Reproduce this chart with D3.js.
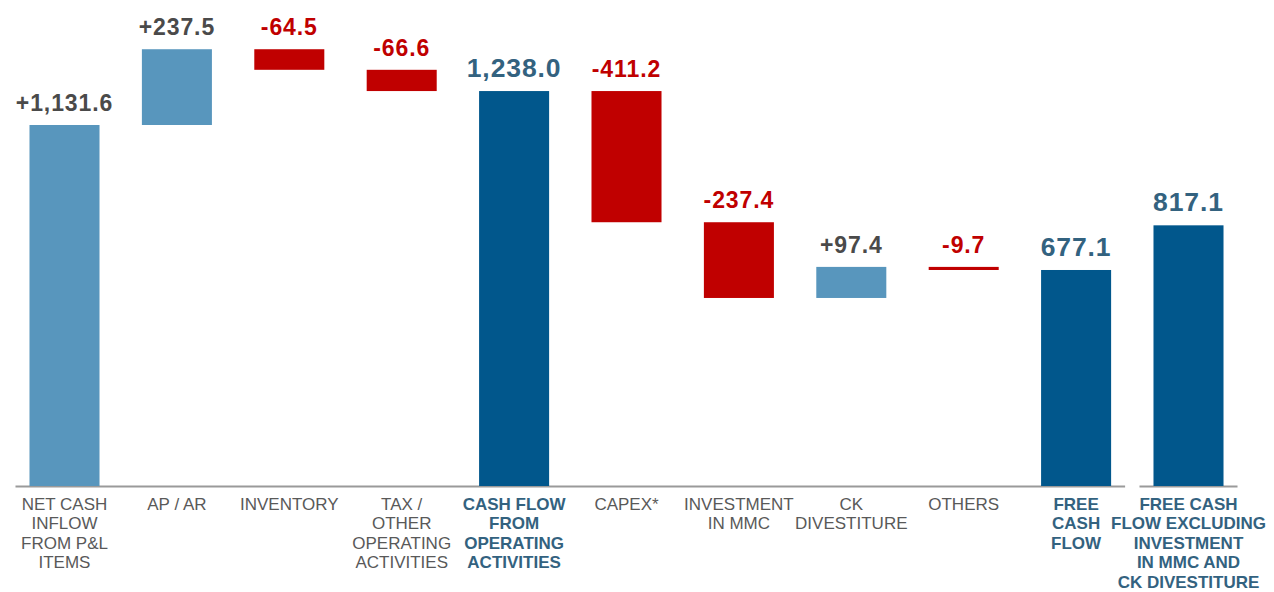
<!DOCTYPE html>
<html>
<head>
<meta charset="utf-8">
<script src="https://cdn.jsdelivr.net/npm/d3@7"></script>
<style>
  html, body { margin: 0; padding: 0; background: #fff; }
  svg { display: block; font-family: "Liberation Sans", Arial, Helvetica, sans-serif; }
</style>
</head>
<body>
<svg id="chart" width="1274" height="592"></svg>
<script>
// chart data
const categories = [
  ["NET CASH", "INFLOW", "FROM P&L", "ITEMS"],
  ["AP / AR"],
  ["INVENTORY"],
  ["TAX /", "OTHER", "OPERATING", "ACTIVITIES"],
  ["CASH FLOW", "FROM", "OPERATING", "ACTIVITIES"],
  ["CAPEX*"],
  ["INVESTMENT", "IN MMC"],
  ["CK", "DIVESTITURE"],
  ["OTHERS"],
  ["FREE", "CASH", "FLOW"],
  ["FREE CASH", "FLOW EXCLUDING", "INVESTMENT", "IN MMC AND", "CK DIVESTITURE"]
];
const values = [1131.6, 237.5, -64.5, -66.6, 1238.0, -411.2, -237.4, 97.4, -9.7, 677.1, 817.1];
const kinds = ["delta", "delta", "delta", "delta", "total", "delta", "delta", "delta", "delta", "total", "total"];
// which baseline segment each bar sits on
const baseGroups = [0, 0, 0, 0, 0, 0, 0, 0, 0, 0, 1];

const colors = {
  up: "#5896bd",
  down: "#c00000",
  total: "#01578c",
  upText: "#4a4a4a",
  totalText: "#33627f",
  catText: "#595959",
  axis: "#9a9a9a"
};

const svg = d3.select("#chart");
const baseY = 486;

// build the waterfall steps
let running = 0;
const steps = values.map((v, i) => {
  let start, end;
  if (kinds[i] == "total") {
    start = 0; end = v; running = v;
  } else {
    start = running; end = running + v; running = end;
  }
  return { i: i, value: v, kind: kinds[i], start: start, end: end, lines: categories[i], group: baseGroups[i] };
});

const x = d3.scaleBand()
  .domain(d3.range(values.length))
  .range([8.3, 8.3 + 112.4 * values.length])
  .paddingInner(0.377)
  .paddingOuter(0.1885);

const y = d3.scaleLinear()
  .domain([0, 1400])
  .range([baseY, baseY - 1400 * 0.31902]);

function barColor(d) {
  if (d.kind == "total") return colors.total;
  return d.value >= 0 ? colors.up : colors.down;
}

// baseline segments
const segs = d3.groups(steps, d => d.group).map(([g, arr]) => ({
  x1: x(arr[0].i) - 14,
  x2: x(arr[arr.length - 1].i) + x.bandwidth() + 14
}));
svg.append("g").selectAll("line").data(segs).join("line")
  .attr("x1", d => d.x1).attr("x2", d => d.x2)
  .attr("y1", baseY + 0.5).attr("y2", baseY + 0.5)
  .attr("stroke", colors.axis).attr("stroke-width", 2);

// bars
svg.append("g").selectAll("rect").data(steps).join("rect")
  .attr("x", d => x(d.i))
  .attr("width", x.bandwidth())
  .attr("y", d => y(Math.max(d.start, d.end)))
  .attr("height", d => Math.max(1, Math.abs(y(d.start) - y(d.end))))
  .attr("fill", barColor);

// value labels
const fmt = d3.format(",.1f");
svg.append("g").selectAll("text").data(steps).join("text")
  .attr("x", d => x(d.i) + x.bandwidth() / 2)
  .attr("y", d => y(Math.max(d.start, d.end)) - 14)
  .attr("text-anchor", "middle")
  .attr("font-weight", "bold")
  .attr("font-size", d => d.kind == "total" ? 26.5 : 23)
  .attr("letter-spacing", 0.9)
  .attr("fill", d => d.kind == "total" ? colors.totalText : (d.value >= 0 ? colors.upText : colors.down))
  .text(d => {
    if (d.kind == "total") return fmt(d.value);
    return (d.value >= 0 ? "+" : "-") + fmt(Math.abs(d.value));
  });

// category labels
const cats = svg.append("g").selectAll("text").data(steps).join("text")
  .attr("text-anchor", "middle")
  .attr("font-size", 17)
  .attr("font-weight", d => d.kind == "total" ? "bold" : "normal")
  .attr("fill", d => d.kind == "total" ? colors.totalText : colors.catText);
cats.selectAll("tspan").data(d => d.lines.map(l => ({ l: l, cx: x(d.i) + x.bandwidth() / 2 })))
  .join("tspan")
  .attr("x", d => d.cx)
  .attr("y", (d, j) => 510 + j * 19.4)
  .text(d => d.l);
</script>
</body>
</html>
